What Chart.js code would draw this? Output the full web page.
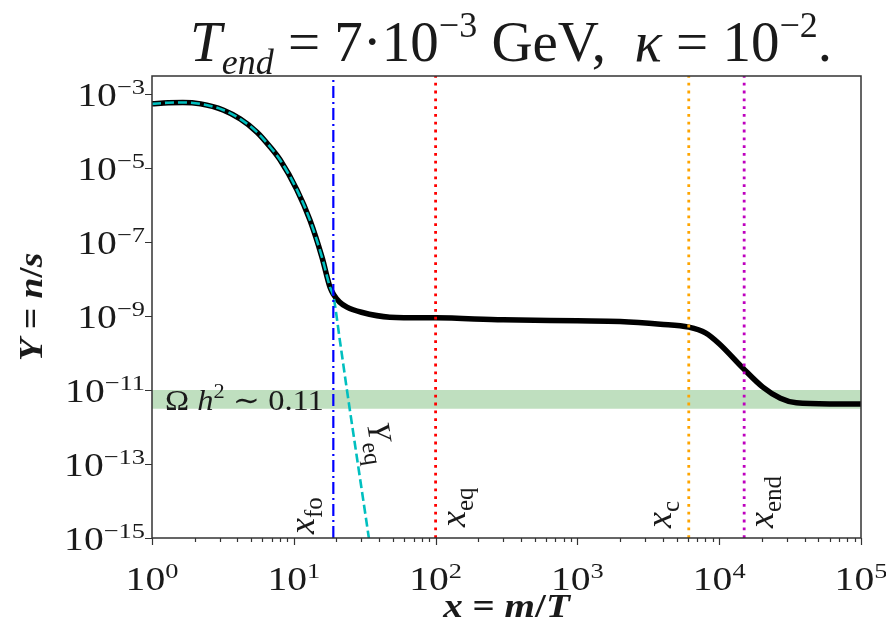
<!DOCTYPE html>
<html>
<head>
<meta charset="utf-8">
<script src="https://cdn.jsdelivr.net/npm/chart.js@4"></script>
<style>
  html, body { margin: 0; padding: 0; background: #fff; }
  #yChart { display: block; }
</style>
</head>
<body>
<canvas id="yChart" width="886" height="628"></canvas>
<script>
// Y = n/s against x = m/T
const xValues = [1, 1.3, 1.65, 2.2, 3.17, 4.2, 5.5, 6.7, 8, 10.5, 13, 15.8, 18, 19, 21, 23.7, 30, 47.6,
  100, 300, 1000, 2000, 3850, 6100, 8000, 10000, 14700, 20300, 27000, 35000, 60000, 100000];
const yValues = [5.4e-4, 5.8e-4, 5.9e-4, 5.4e-4, 3.7e-4, 2.1e-4, 9.3e-5, 4.0e-5, 1.66e-5, 2.6e-6, 3.9e-7,
  3.9e-8, 6.0e-9, 3.9e-9, 2.4e-9, 1.74e-9, 1.26e-9, 9.3e-10, 8.9e-10, 7.9e-10, 7.4e-10, 7.1e-10,
  6.0e-10, 5.0e-10, 3.5e-10, 1.78e-10, 3.9e-11, 1.2e-11, 6.0e-12, 4.5e-12, 4.2e-12, 4.2e-12];

// equilibrium abundance Y_eq
const xEqValues = [1, 1.3, 1.65, 2.2, 3.17, 4.2, 5.5, 6.7, 8, 10.5, 13, 15.8, 18, 19, 21.2, 23.7, 27.9, 33.4, 35];
const yEqValues = [5.4e-4, 5.8e-4, 5.9e-4, 5.4e-4, 3.7e-4, 2.1e-4, 9.3e-5, 4.0e-5, 1.66e-5, 2.6e-6, 3.9e-7,
  3.9e-8, 6.0e-9, 3.5e-9, 2.0e-10, 1.0e-11, 1.45e-13, 1.4e-15, 4e-16];

// characteristic points: freeze-out, equality, x_c, end
const markerNames = ['fo', 'eq', 'c', 'end'];
const markerX = [19, 100, 6100, 15000];
const markerColors = ['#0000ff', '#ff0000', '#ffa500', '#bf00bf'];

// relic density band  Omega h^2 ~ 0.11
const relicBand = [3.1e-12, 1e-11];

const xRange = [1, 1e5];
const yRange = [1e-15, 3.06e-3];
const xMajorTicks = [1, 10, 100, 1000, 10000, 100000];
const xTickExp = ['0', '1', '2', '3', '4', '5'];
const yMajorTicks = [1e-15, 1e-13, 1e-11, 1e-9, 1e-7, 1e-5, 1e-3];
const yTickExp = ['\u221215', '\u221213', '\u221211', '\u22129', '\u22127', '\u22125', '\u22123'];

const serif = '"Liberation Serif", "DejaVu Serif", serif';
const f = (size, style) => (style || '') + ' ' + size + 'px ' + serif;
const ink = '#1a1a1a';

// draw a row of text pieces [text, font, raise] starting at baseline (x, y)
function drawRuns(ctx, runs, x, y, align, sx) {
  let total = 0;
  runs.forEach(r => { ctx.font = r[1]; total += ctx.measureText(r[0]).width; });
  ctx.save();
  ctx.translate(x, y);
  ctx.scale(sx || 1, 1);
  let cx = -total * (align || 0);
  runs.forEach(r => {
    ctx.font = r[1];
    ctx.fillText(r[0], cx, -(r[2] || 0));
    cx += ctx.measureText(r[0]).width;
  });
  ctx.restore();
}

function drawRotated(ctx, runs, x, y, angle, align, sx) {
  ctx.save();
  ctx.translate(x, y);
  ctx.rotate(angle);
  drawRuns(ctx, runs, 0, 0, align, sx);
  ctx.restore();
}

const decorations = {
  id: 'decorations',
  afterDatasetsDraw(chart) {
    const ctx = chart.ctx;
    const a = chart.chartArea;
    const xs = chart.scales.x, ys = chart.scales.y;
    ctx.save();
    ctx.strokeStyle = '#333';
    ctx.lineWidth = 1.5;
    ctx.strokeRect(a.left, a.top, a.right - a.left, a.bottom - a.top);

    // tick marks
    ctx.beginPath();
    xMajorTicks.forEach((v, i) => {
      const px = Math.round(xs.getPixelForValue(v)) + 0.5;
      ctx.moveTo(px, a.bottom); ctx.lineTo(px, a.bottom + 7);
      if (i < xMajorTicks.length - 1) {
        for (let m = 2; m < 10; m++) {
          const mx = Math.round(xs.getPixelForValue(v * m)) + 0.5;
          ctx.moveTo(mx, a.bottom); ctx.lineTo(mx, a.bottom + 4);
        }
      }
    });
    yMajorTicks.forEach(v => {
      const py = Math.round(ys.getPixelForValue(v)) + 0.5;
      ctx.moveTo(a.left, py); ctx.lineTo(a.left - 7, py);
    });
    ctx.lineWidth = 1.2;
    ctx.stroke();

    ctx.fillStyle = ink;
    ctx.textBaseline = 'alphabetic';
    // tick labels
    xMajorTicks.forEach((v, i) => {
      drawRuns(ctx, [['10', f(33)], [xTickExp[i], f(22), 12]], xs.getPixelForValue(v), a.bottom + 52, 0.5, 1.2);
    });
    yMajorTicks.forEach((v, i) => {
      drawRuns(ctx, [['10', f(33)], [yTickExp[i], f(22), 12]], a.left - 7, ys.getPixelForValue(v) + 12, 1, 1.2);
    });

    // axis titles
    drawRuns(ctx, [['x', f(34, 'bold italic')], [' = ', f(34, 'bold')], ['m', f(34, 'bold italic')],
      ['/', f(34, 'bold')], ['T', f(34, 'bold italic')]], (a.left + a.right) / 2, 617, 0.5, 1.15);
    drawRotated(ctx, [['Y', f(34, 'bold italic')], [' = ', f(34, 'bold')], ['n', f(34, 'bold italic')],
      ['/', f(34, 'bold')], ['s', f(34, 'bold italic')]], 42, (a.top + a.bottom) / 2, -Math.PI / 2, 0.5, 1.1);

    // marker labels
    const sub = name => [['x', f(36, 'italic')], [name, f(25), -8]];
    const labelOffset = [-19, 29, -18, 29];
    const labelBase = [534, 527, 528, 528];
    markerX.forEach((v, i) => {
      drawRotated(ctx, sub(markerNames[i]), xs.getPixelForValue(v) + labelOffset[i], labelBase[i], -Math.PI / 2, 0, 1);
    });
    drawRotated(ctx, [['Y', f(33, 'italic')], ['eq', f(24), -8]], 367, 424, 81 * Math.PI / 180, 0, 1);

    // relic band label
    drawRuns(ctx, [['\u03A9 ', f(29)], ['h', f(29, 'italic')], ['2', f(20), 12], [' \u223C 0.11', f(29)]],
      a.left + 13, ys.getPixelForValue(relicBand[0]) + 1, 0, 1.12);

    // title
    const titleRuns = [['T', f(57, 'italic')], ['end', f(36, 'italic'), -13], [' = 7\u00B710', f(57)],
      ['\u22123', f(36), 24], [' GeV,  ', f(57)], ['\u03BA', f(57, 'italic')], [' = 10', f(57)],
      ['\u22122', f(36), 24], ['.', f(57)]];
    drawRuns(ctx, titleRuns, 511, 61, 0.5, 1.0);
    ctx.restore();
  }
};

const pts = (xa, ya) => xa.map((v, i) => ({ x: v, y: ya[i] }));

const markerSets = markerX.map((v, i) => ({
  data: [{ x: v, y: yRange[0] }, { x: v, y: yRange[1] }],
  borderColor: markerColors[i],
  borderWidth: i === 0 ? 2.2 : 2.8,
  borderDash: i === 0 ? [12, 4, 2, 4] : [2.8, 5],
  order: 0
}));

const config = {
  type: 'line',
  data: {
    datasets: [
      ...markerSets,
      {
        data: pts(xEqValues, yEqValues),
        borderColor: '#00bfbf',
        borderWidth: 2.6,
        borderDash: [9, 4],
        cubicInterpolationMode: 'monotone',
        order: 1
      },
      {
        data: pts(xValues, yValues),
        borderColor: '#000',
        borderWidth: 5.5,
        cubicInterpolationMode: 'monotone',
        order: 2
      },
      {
        data: [{ x: xRange[0], y: relicBand[1] }, { x: xRange[1], y: relicBand[1] }],
        borderWidth: 0,
        backgroundColor: 'rgba(0, 128, 0, 0.25)',
        fill: { value: relicBand[0] },
        order: 3
      }
    ]
  },
  options: {
    responsive: false,
    animation: false,
    devicePixelRatio: 1,
    layout: { padding: { left: 152, right: 25, top: 76, bottom: 90 } },
    elements: { point: { radius: 0 }, line: { borderCapStyle: 'butt' } },
    datasets: { line: { clip: 0 } },
    plugins: { legend: { display: false }, tooltip: { enabled: false } },
    scales: {
      x: { type: 'logarithmic', min: xRange[0], max: xRange[1], display: false },
      y: { type: 'logarithmic', min: yRange[0], max: yRange[1], display: false }
    }
  },
  plugins: [decorations]
};

const yChart = new Chart(document.getElementById('yChart'), config);
</script>
</body>
</html>
